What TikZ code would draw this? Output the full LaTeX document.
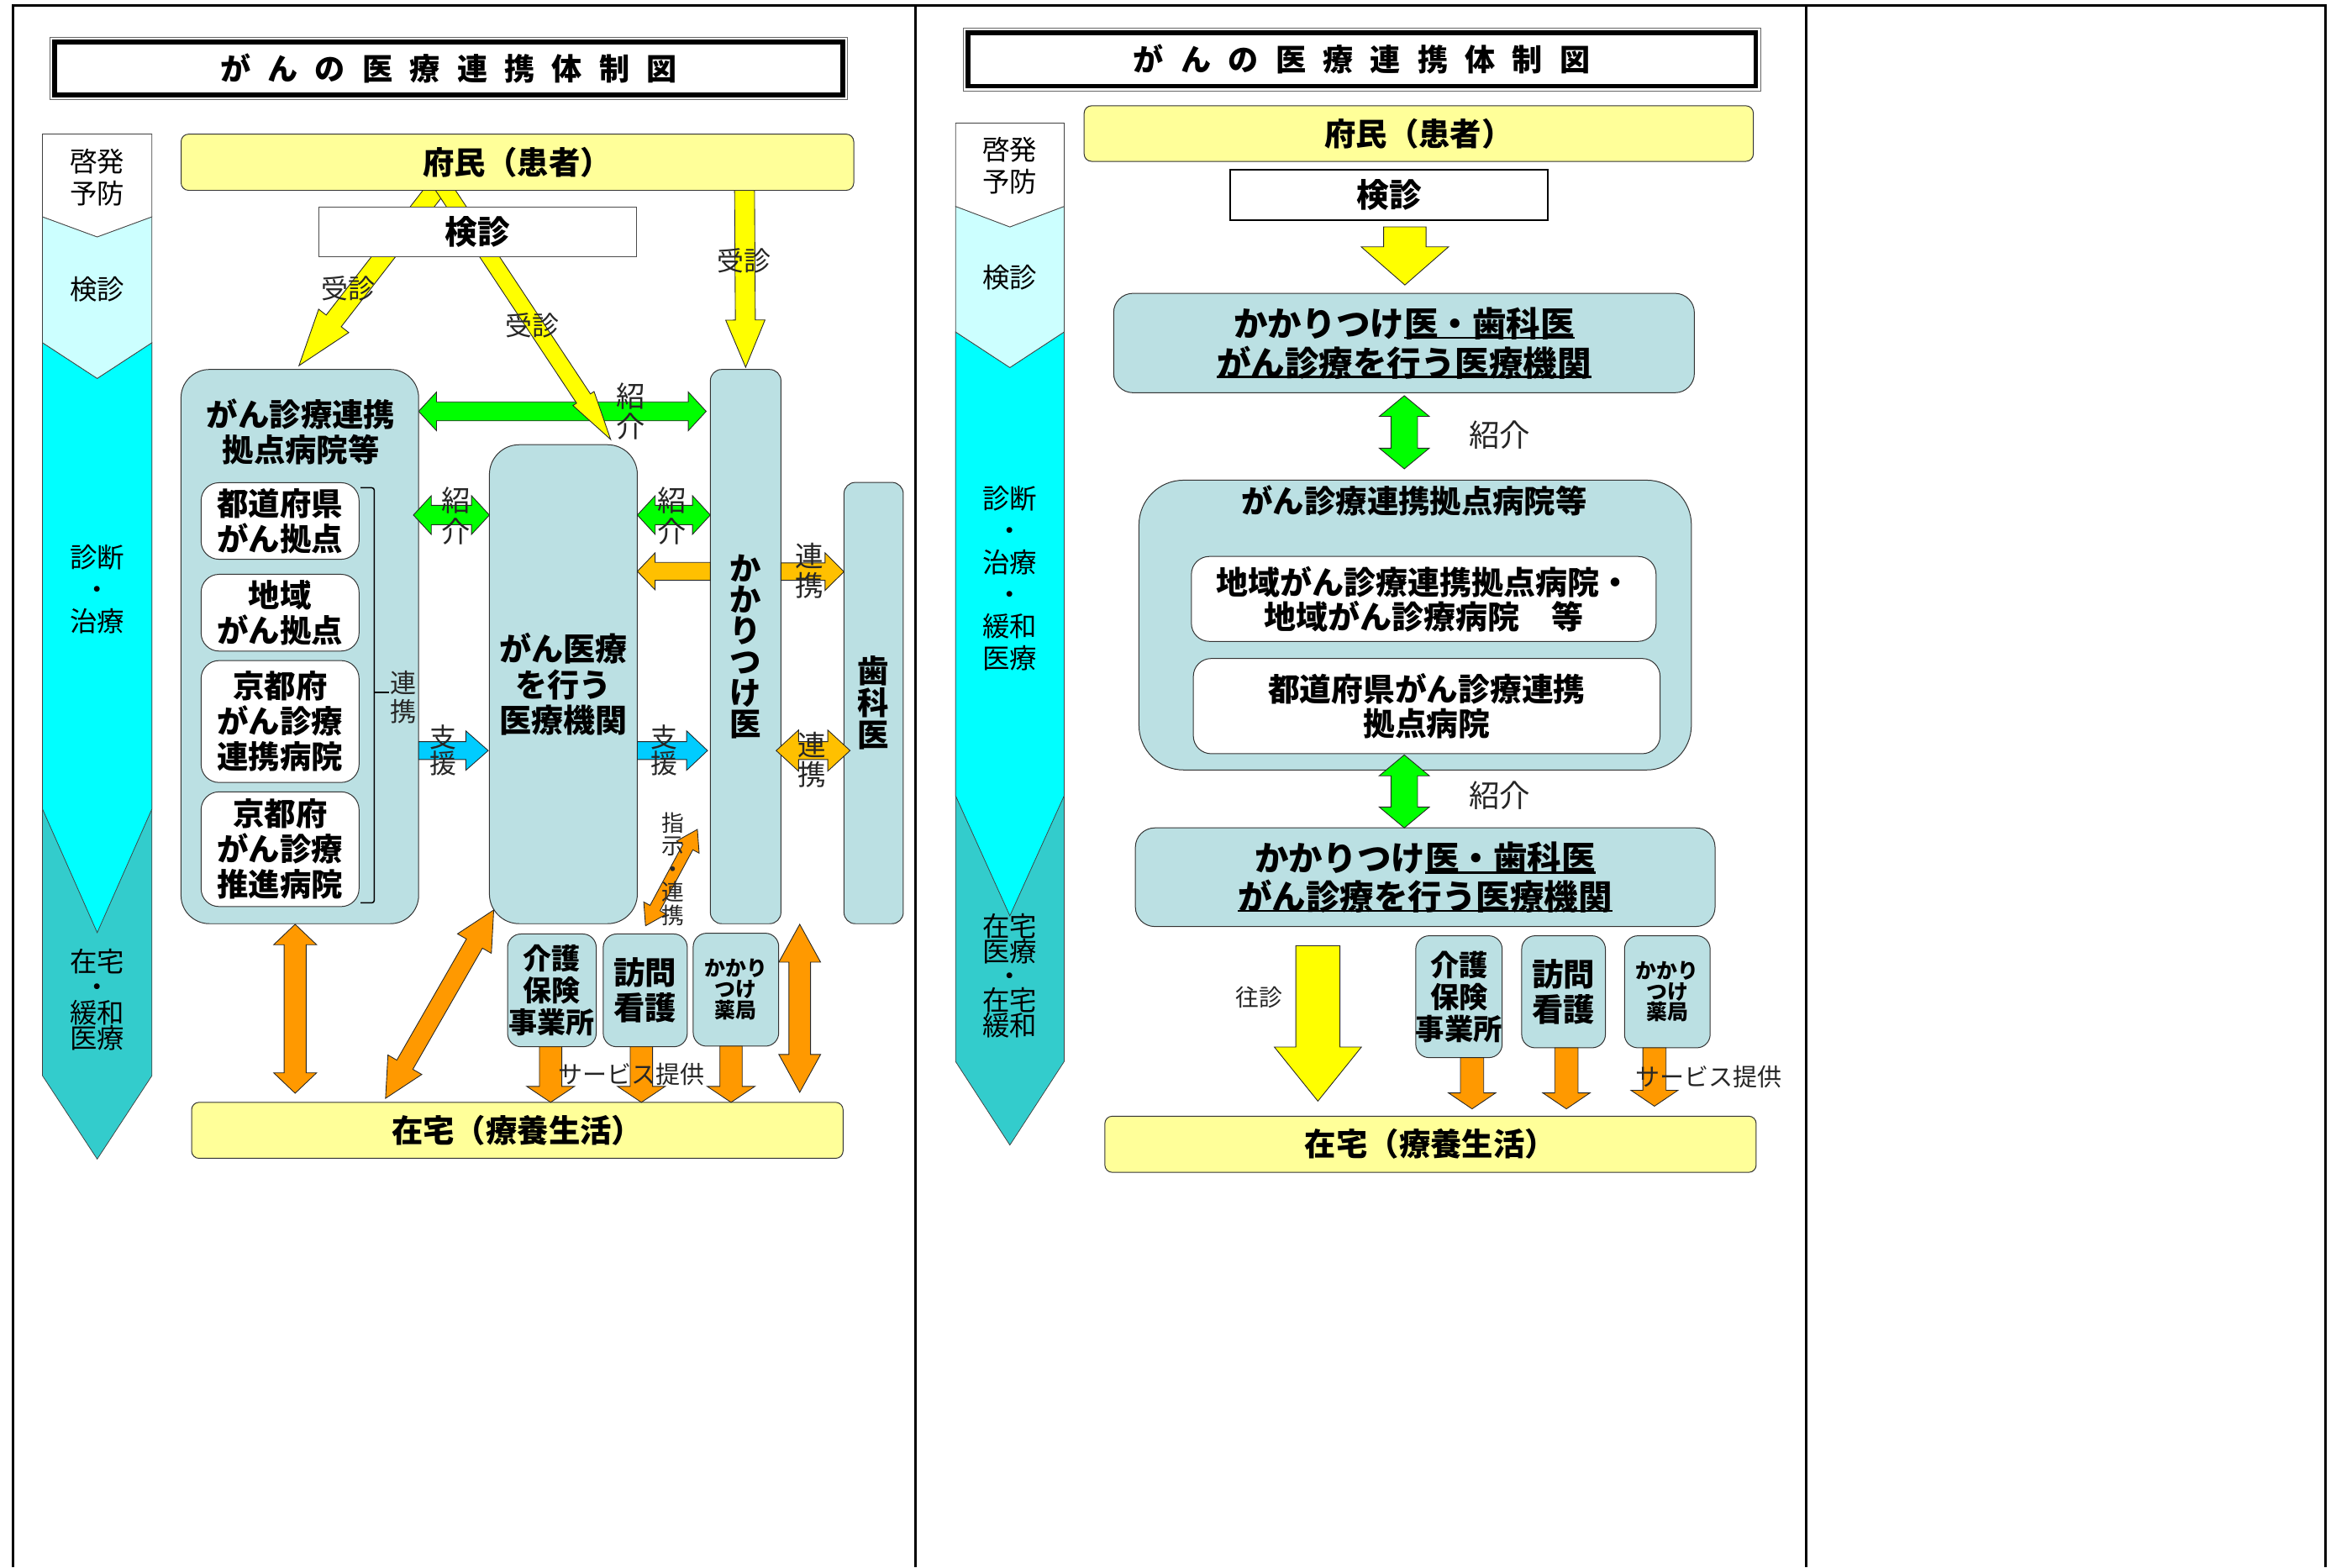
\documentclass[tikz,border=0pt]{standalone}
\usepackage{fontspec}
\setmainfont{Noto Sans CJK JP}
\usetikzlibrary{calc,backgrounds}

\definecolor{boxblue}{RGB}{187,224,227}
\definecolor{paleyellow}{RGB}{255,255,153}
\definecolor{arrowyellow}{RGB}{255,255,0}
\definecolor{arrowgreen}{RGB}{0,255,0}
\definecolor{arrowamber}{RGB}{255,192,0}
\definecolor{arroworange}{RGB}{255,153,0}
\definecolor{arrowblue}{RGB}{0,204,255}
\definecolor{stagepale}{RGB}{204,255,255}
\definecolor{stagecyan}{RGB}{0,255,255}
\definecolor{stageteal}{RGB}{51,204,204}

\newcommand{\jfs}[2]{\fontsize{#1}{#2}\selectfont\lineskiplimit=-50pt\relax}
\newcommand{\tsp}{\hspace{0.56em}}
\newsavebox{\ulbox}
\newcommand{\ultext}[1]{\sbox{\ulbox}{#1}\rlap{\rule[-0.08em]{\wd\ulbox}{0.07em}}\usebox{\ulbox}}

% block arrow: colour, tail, tip, half shaft, half head, head length
\newcommand{\blockarrow}[6]{%
  \coordinate (hd) at ($(#3)!#6*0.5mm!(#2)$);
  \filldraw[arrowedge, fill=#1] ($(#2)!#4*0.5mm!90:(#3)$) -- ($(hd)!#4*0.5mm!90:(#3)$)
    -- ($(hd)!#5*0.5mm!90:(#3)$) -- (#3) -- ($(hd)!#5*0.5mm!-90:(#3)$)
    -- ($(hd)!#4*0.5mm!-90:(#3)$) -- ($(#2)!#4*0.5mm!-90:(#3)$) -- cycle;
}
% double block arrow: colour, end, end, half shaft, half head, head length
\newcommand{\dblarrow}[6]{%
  \coordinate (hd) at ($(#3)!#6*0.5mm!(#2)$);
  \coordinate (tl) at ($(#2)!#6*0.5mm!(#3)$);
  \filldraw[arrowedge, fill=#1] (#2) -- ($(tl)!#5*0.5mm!90:(#3)$) -- ($(tl)!#4*0.5mm!90:(#3)$)
    -- ($(hd)!#4*0.5mm!90:(#3)$) -- ($(hd)!#5*0.5mm!90:(#3)$) -- (#3)
    -- ($(hd)!#5*0.5mm!-90:(#3)$) -- ($(hd)!#4*0.5mm!-90:(#3)$)
    -- ($(tl)!#4*0.5mm!-90:(#3)$) -- ($(tl)!#5*0.5mm!-90:(#3)$) -- cycle;
}

\begin{document}
\begin{tikzpicture}[x=0.5mm, y=-0.5mm,
  every node/.style={inner sep=0pt, outer sep=0pt},
  sz/.style 2 args={minimum width={#1*0.5mm}, minimum height={#2*0.5mm}},
  frameline/.style={line width=2.4pt},
  titlebox/.style={draw=black!60, line width=0.6pt, fill=white, font=\bfseries\jfs{29}{29}},
  titlerule/.style={line width=4.5pt},
  ybox/.style={draw=black!80, line width=0.8pt, fill=paleyellow, rounded corners=2.5mm, font=\bfseries\jfs{30}{30}},
  bbox/.style={draw=black!80, line width=0.8pt, fill=boxblue, align=center, font=\bfseries\jfs{30}{34}},
  wbox/.style={draw=black!80, line width=0.8pt, fill=white, rounded corners=6mm, align=center, font=\bfseries\jfs{30}{33.6}},
  boxtext/.style={align=center, font=\bfseries\jfs{30}{34.1}},
  kenbox/.style={draw=black!70, line width=0.8pt, fill=white, font=\bfseries\jfs{31}{31}},
  stageedge/.style={draw=black!75, line width=0.6pt},
  stagetext/.style={align=center, font=\jfs{26}{30.5}},
  arrowedge/.style={draw=black!85, line width=0.7pt, line join=miter},
  lbl/.style={align=center, text=black!85},
  bracketline/.style={line width=1.2pt, rounded corners=0.8mm}]

\useasboundingbox (0,0) rectangle (1568,1052);

% Draw frame
\draw[frameline] (8.7,1052) -- (8.7,3.8) -- (1561,3.8) -- (1561,1052);
\draw[frameline] (614.5,3.8) -- (614.5,1052);
\draw[frameline] (1212.2,3.8) -- (1212.2,1052);

% ---------- left panel ----------
\node[titlebox, sz={535}{41.5}] (titleL) at (301.2,46) {が\tsp ん\tsp の\tsp 医\tsp 療\tsp 連\tsp 携\tsp 体\tsp 制\tsp 図};
\draw[titlerule] ($(titleL.north west)+(3,3)$) rectangle ($(titleL.south east)+(-3,-3)$);

% Stage column
\filldraw[stageedge, fill=stageteal] (28.5,230) -- (102,230) -- (102,722) -- (65.25,778) -- (28.5,722) -- cycle;
\filldraw[stageedge, fill=stagecyan] (28.5,230) -- (65.25,254) -- (102,230) -- (102,543) -- (65.25,626) -- (28.5,543) -- cycle;
\filldraw[stageedge, fill=stagepale] (28.5,145.5) -- (65.25,159) -- (102,145.5) -- (102,230) -- (65.25,254) -- (28.5,230) -- cycle;
\filldraw[stageedge, fill=white] (28.5,90) -- (102,90) -- (102,145.5) -- (65.25,159) -- (28.5,145.5) -- cycle;
\node[stagetext] (stL1) at (65.25,119) {啓発\\予防};
\node[stagetext] (stL2) at (65.25,193.9) {検診};
\node[stagetext] (stL3) at (65.25,395.5) {診断\\・\\治療};
\node[stagetext, font=\jfs{26}{24.2}] (stL4) at (65.25,671) {在宅\\・\\緩和\\医療};

% Boxes
\node[ybox, sz={451.5}{37.7}] (pmL) at (347.3,108.9) {府民（患者）};
\node[bbox, rounded corners=9.5mm, sz={159.5}{372}] (kyotenL) at (201.25,434) {};
\node[boxtext] (kyotenLt) at (202,290) {がん診療連携\\拠点病院等};
\node[wbox, sz={106}{51.4}] (inL1) at (188,349.7) {都道府県\\がん拠点};
\node[wbox, sz={106}{51.5}] (inL2) at (188,411.25) {地域\\がん拠点};
\node[wbox, sz={106}{81.8}] (inL3) at (188,484.3) {京都府\\がん診療\\連携病院};
\node[wbox, sz={106}{77}] (inL4) at (188,570) {京都府\\がん診療\\推進病院};
\node[bbox, rounded corners=10mm, sz={99.3}{321.5}, font=\bfseries\jfs{30.5}{34.1}] (iryoL) at (378.15,459.25) {がん医療\\を行う\\医療機関};
\node[bbox, rounded corners=3.8mm, sz={47.4}{372}, font=\bfseries\jfs{30}{29.6}] (kakariL) at (500.5,434) {か\\か\\り\\つ\\け\\医};
\node[bbox, rounded corners=3.8mm, sz={39.8}{296.2}, font=\bfseries\jfs{30}{30.4}] (shikaL) at (586.4,471.9) {歯\\科\\医};
\node[bbox, rounded corners=4.5mm, sz={59.5}{75.7}, font=\bfseries\jfs{27.3}{30.7}] (kaigoL) at (370.45,664.75) {介護\\保険\\事業所};
\node[bbox, rounded corners=4.5mm, sz={56.4}{75.7}, font=\bfseries\jfs{30}{33.4}] (houmonL) at (433.1,664.75) {訪問\\看護};
\node[bbox, rounded corners=4.5mm, sz={57.4}{75.8}, font=\bfseries\jfs{20}{20}] (yakkyokuL) at (494,664.3) {かかり\\つけ\\薬局};
\node[ybox, sz={437.3}{37.6}] (zaitakuL) at (347.25,758.7) {在宅（療養生活）};

% Bracket
\draw[bracketline] (242,327.4) -- (251.2,327.4) -- (251.2,606) -- (242,606);
\draw[bracketline] (251.2,464.8) -- (261,464.8);

% Arrows under the boxes
\begin{pgfonlayer}{background}
  \coordinate (g1a) at (kyotenL.east |- 0,276.1);
  \coordinate (g1b) at (474,276.1);
  \dblarrow{arrowgreen}{g1a}{g1b}{6.35}{13}{12}
  \coordinate (y1a) at (298,120);
  \coordinate (y1b) at (200.7,245.4);
  \blockarrow{arrowyellow}{y1a}{y1b}{6.4}{12.8}{38}
  \coordinate (y2a) at (293.9,120);
  \coordinate (y2b) at (409.9,295);
  \blockarrow{arrowyellow}{y2a}{y2b}{5.6}{8.5}{33}
  \coordinate (y3a) at (499.7,120);
  \coordinate (y3b) at (kakariL.north |- 0,246.5);
  \blockarrow{arrowyellow}{y3a}{y3b}{6.7}{13.2}{31.7}
\end{pgfonlayer}

\node[kenbox, sz={213}{33.5}] (kenL) at (320.6,155.75) {検診};

% Arrows between boxes
\coordinate (g2a) at (277.5,345.7);
\coordinate (g2b) at (iryoL.west |- 0,345.7);
\dblarrow{arrowgreen}{g2a}{g2b}{6.5}{13}{12}
\coordinate (g3a) at (iryoL.east |- 0,345.7);
\coordinate (g3b) at (kakariL.west |- 0,345.7);
\dblarrow{arrowgreen}{g3a}{g3b}{6.5}{13}{12}
\coordinate (a1a) at (kakariL.west |- 0,383.5);
\coordinate (a1b) at (iryoL.east |- 0,383.5);
\blockarrow{arrowamber}{a1a}{a1b}{6}{12.4}{11.9}
\coordinate (a2a) at (kakariL.east |- 0,383.7);
\coordinate (a2b) at (shikaL.west |- 0,383.7);
\blockarrow{arrowamber}{a2a}{a2b}{5.85}{12.6}{12.7}
\coordinate (b1a) at (kyotenL.east |- 0,503.8);
\coordinate (b1b) at (327.7,503.8);
\blockarrow{arrowblue}{b1a}{b1b}{6}{13.2}{15}
\coordinate (b2a) at (iryoL.east |- 0,503.8);
\coordinate (b2b) at (474.9,503.8);
\blockarrow{arrowblue}{b2a}{b2b}{6}{13.2}{14}
\coordinate (a3a) at (521,503.8);
\coordinate (a3b) at (570.6,503.8);
\dblarrow{arrowamber}{a3a}{a3b}{6}{13.8}{15}
\coordinate (o1a) at (198.1,620.4);
\coordinate (o1b) at (198.1,733.8);
\dblarrow{arroworange}{o1a}{o1b}{7.4}{14.4}{13.7}
\coordinate (o2a) at (258.8,737.2);
\coordinate (o2b) at (331.4,610.8);
\dblarrow{arroworange}{o2a}{o2b}{6.2}{13.1}{26}
\coordinate (o3a) at (433.3,621.4);
\coordinate (o3b) at (468.1,556.7);
\dblarrow{arroworange}{o3a}{o3b}{3.8}{8.6}{13.5}
\coordinate (o4a) at (536.8,620.4);
\coordinate (o4b) at (536.8,733.2);
\dblarrow{arroworange}{o4a}{o4b}{7.25}{14}{25.4}
\coordinate (d1a) at (kaigoL.south -| 369.6,0);
\coordinate (d1b) at (zaitakuL.north -| 369.6,0);
\blockarrow{arroworange}{d1a}{d1b}{7.5}{16}{10.7}
\coordinate (d2a) at (houmonL.south -| 430.5,0);
\coordinate (d2b) at (zaitakuL.north -| 430.5,0);
\blockarrow{arroworange}{d2a}{d2b}{7.5}{16}{10.7}
\coordinate (d3a) at (yakkyokuL.south -| 490.7,0);
\coordinate (d3b) at (zaitakuL.north -| 490.7,0);
\blockarrow{arroworange}{d3a}{d3b}{7.5}{16}{10.7}

% Labels
\node[lbl, font=\jfs{25.6}{25.6}] (jushinL1) at (234,193.6) {受診};
\node[lbl, font=\jfs{25.6}{25.6}] (jushinL2) at (357.4,218.4) {受診};
\node[lbl, font=\jfs{25.6}{25.6}] (jushinL3) at (499.4,175.2) {受診};
\node[lbl, font=\jfs{27.5}{29.2}] (shokaiL1) at (423.5,276.2) {紹\\介};
\node[lbl, font=\jfs{27.5}{29.2}] (shokaiL2) at (306.3,346.3) {紹\\介};
\node[lbl, font=\jfs{27.5}{29.2}] (shokaiL3) at (450.9,346.3) {紹\\介};
\node[lbl, font=\jfs{27}{28.5}] (renkeiL1) at (543.3,383) {連\\携};
\node[lbl, font=\jfs{25.6}{25}] (shienL1) at (297.6,503.8) {支\\援};
\node[lbl, font=\jfs{25.6}{25}] (shienL2) at (446,503.8) {支\\援};
\node[lbl, font=\jfs{27}{28.5}] (renkeiL2) at (545.3,510) {連\\携};
\node[lbl, font=\jfs{25}{27}] (renkeiL3) at (271,468) {連\\携};
\node[lbl, font=\jfs{21.5}{22}] (shijiL) at (452,583.3) {指\\示\\・\\連\\携};
\node[lbl, font=\jfs{23.3}{23.3}] (serviceL) at (424,721.1) {サービス提供};

% ---------- middle panel ----------
\node[titlebox, sz={535}{42}] (titleM) at (914.1,39.9) {が\tsp ん\tsp の\tsp 医\tsp 療\tsp 連\tsp 携\tsp 体\tsp 制\tsp 図};
\draw[titlerule] ($(titleM.north west)+(3,3)$) rectangle ($(titleM.south east)+(-3,-3)$);

% Stage column
\filldraw[stageedge, fill=stageteal] (641.4,222.8) -- (714.3,222.8) -- (714.3,712.5) -- (677.85,768.6) -- (641.4,712.5) -- cycle;
\filldraw[stageedge, fill=stagecyan] (641.4,222.8) -- (677.85,246.7) -- (714.3,222.8) -- (714.3,534.1) -- (677.85,614.7) -- (641.4,534.1) -- cycle;
\filldraw[stageedge, fill=stagepale] (641.4,138.5) -- (677.85,152.3) -- (714.3,138.5) -- (714.3,222.8) -- (677.85,246.7) -- (641.4,222.8) -- cycle;
\filldraw[stageedge, fill=white] (641.4,82.6) -- (714.3,82.6) -- (714.3,138.5) -- (677.85,152.3) -- (641.4,138.5) -- cycle;
\node[stagetext] (stM1) at (677.85,111.4) {啓発\\予防};
\node[stagetext] (stM2) at (677.85,186.3) {検診};
\node[stagetext] (stM3) at (677.85,388.4) {診断\\・\\治療\\・\\緩和\\医療};
\node[stagetext, font=\jfs{26}{23.5}] (stM4) at (677.85,654.95) {在宅\\医療\\・\\在宅\\緩和};

% Boxes
\node[ybox, sz={449.2}{37.3}] (pmM) at (952.3,89.65) {府民（患者）};
\node[kenbox, draw=black, line width=1.6pt, sz={213.3}{34}] (kenM) at (932.55,131) {検診};
\node[bbox, rounded corners=6.5mm, sz={389.8}{66.7}, font=\bfseries\jfs{32.5}{37.6}] (kakariM1) at (942.4,230.25) {かかりつけ\ultext{医・歯科医}\\\ultext{がん診療を行う医療機関}};
\node[bbox, rounded corners=15mm, sz={370.8}{194.5}] (kyotenM) at (949.9,419.55) {};
\node[boxtext, font=\bfseries\jfs{30}{30}] (kyotenMt) at (949.3,336.1) {がん診療連携拠点病院等};
\node[wbox, sz={311.9}{57}, font=\bfseries\jfs{30.5}{32.9}] (inM1) at (955.65,402) {地域がん診療連携拠点病院・\\地域がん診療病院　等};
\node[wbox, sz={313.3}{63.9}, font=\bfseries\jfs{30.3}{32.7}] (inM2) at (957.65,473.95) {都道府県がん診療連携\\拠点病院};
\node[bbox, rounded corners=6.5mm, sz={389.1}{66.2}, font=\bfseries\jfs{32.5}{36.8}] (kakariM2) at (956.65,588.8) {かかりつけ\ultext{医・歯科医}\\\ultext{がん診療を行う医療機関}};
\node[bbox, rounded corners=4.5mm, sz={58}{81.8}, font=\bfseries\jfs{27.5}{30.6}] (kaigoM) at (979.3,669) {介護\\保険\\事業所};
\node[bbox, rounded corners=4.5mm, sz={56.2}{75.2}, font=\bfseries\jfs{30}{33.4}] (houmonM) at (1049.5,665.7) {訪問\\看護};
\node[bbox, rounded corners=4.5mm, sz={57.5}{75.2}, font=\bfseries\jfs{20}{19.8}] (yakkyokuM) at (1119.15,665.7) {かかり\\つけ\\薬局};
\node[ybox, sz={437.2}{37.7}] (zaitakuM) at (960.2,768.05) {在宅（療養生活）};

% Arrows
\coordinate (ym1a) at (943,152.3);
\coordinate (ym1b) at (943,191.3);
\blockarrow{arrowyellow}{ym1a}{ym1b}{14.25}{29.3}{25.6}
\coordinate (vm1a) at (942.6,265.6);
\coordinate (vm1b) at (942.6,314.7);
\dblarrow{arrowgreen}{vm1a}{vm1b}{8.9}{16.8}{13.9}
\coordinate (vm2a) at (942.6,506.7);
\coordinate (vm2b) at (942.6,555.7);
\dblarrow{arrowgreen}{vm2a}{vm2b}{8.9}{16.8}{14}
\coordinate (ym2a) at (884.6,634.8);
\coordinate (ym2b) at (884.6,739.1);
\blockarrow{arrowyellow}{ym2a}{ym2b}{14.8}{29.2}{36.3}
\coordinate (dm1a) at (kaigoM.south -| 988.1,0);
\coordinate (dm1b) at (988.1,744.3);
\blockarrow{arroworange}{dm1a}{dm1b}{7.8}{15.8}{10.7}
\coordinate (dm2a) at (houmonM.south -| 1051.4,0);
\coordinate (dm2b) at (1051.4,744.3);
\blockarrow{arroworange}{dm2a}{dm2b}{7.8}{15.8}{10.7}
\coordinate (dm3a) at (yakkyokuM.south -| 1110.5,0);
\coordinate (dm3b) at (1110.5,742.5);
\blockarrow{arroworange}{dm3a}{dm3b}{7.8}{15.8}{10.7}

% Labels
\node[lbl, font=\jfs{29.3}{29.3}] (shokaiM1) at (1006.7,292) {紹介};
\node[lbl, font=\jfs{29.3}{29.3}] (shokaiM2) at (1006.7,534.1) {紹介};
\node[lbl, font=\jfs{22.3}{22.3}] (oushinM) at (845.1,669.4) {往診};
\node[lbl, font=\jfs{23.3}{23.3}] (serviceM) at (1147,722.8) {サービス提供};
\end{tikzpicture}
\end{document}
